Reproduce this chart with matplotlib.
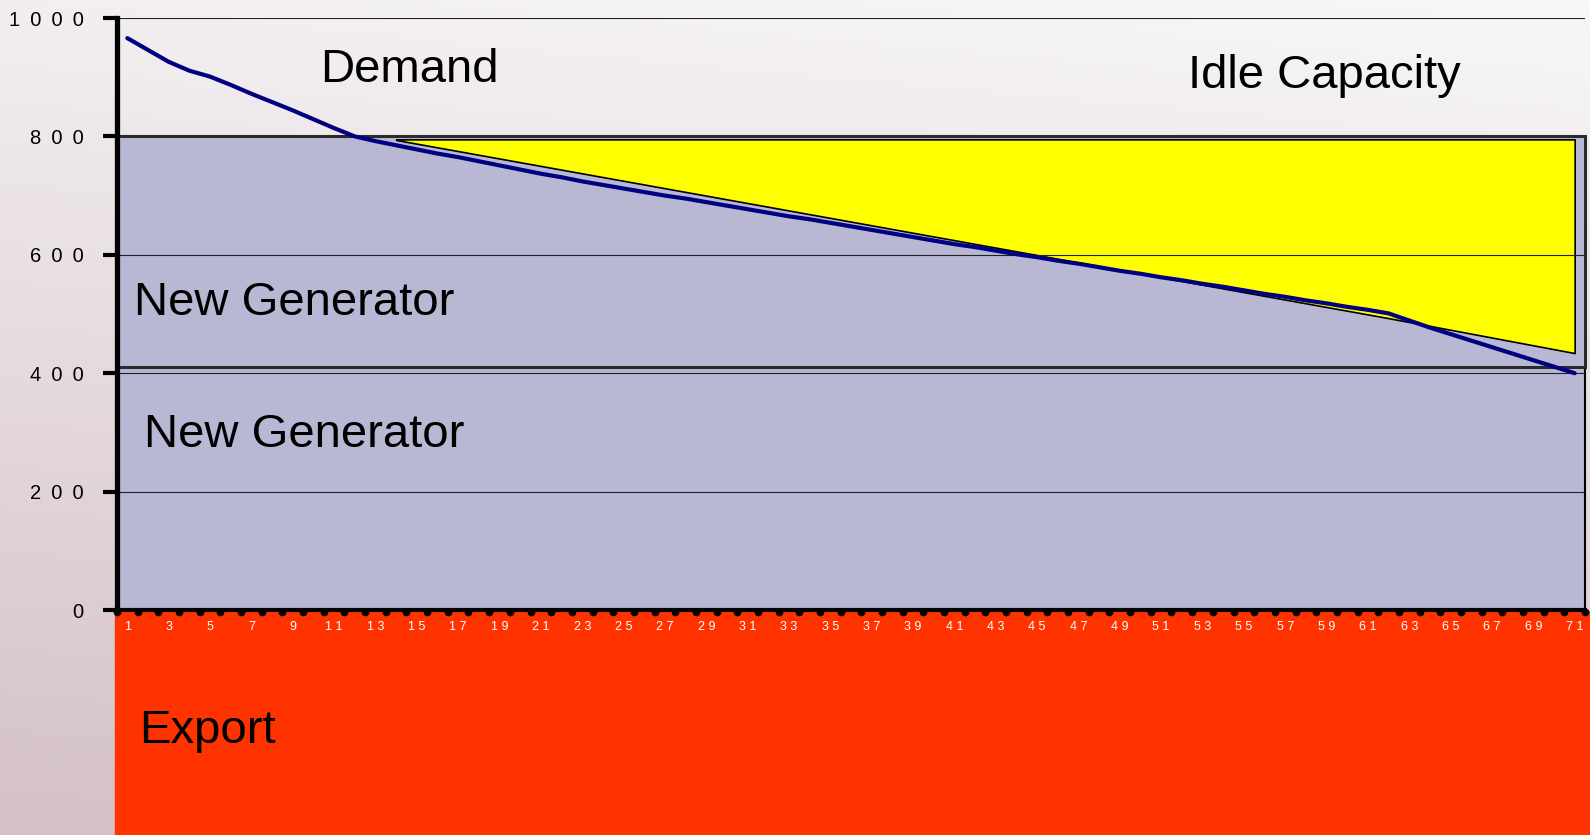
import numpy as np
import matplotlib.pyplot as plt
from matplotlib.patches import Rectangle
from matplotlib.transforms import offset_copy

plt.rcParams['font.family'] = ['Liberation Sans', 'DejaVu Sans']

# periods on the x axis and the demand curve
periods = list(range(1, 72))
demand = [966, 946, 926, 911, 901, 887, 872, 858, 844, 829, 814, 800,
          792, 785, 778, 771, 765, 758, 751, 744, 737, 731, 724,
          718, 712, 706, 700, 695, 689, 683, 677, 671, 665, 660, 654,
          648, 642, 636, 630, 624, 618, 613, 607,
          601, 596, 590, 585, 579, 573, 568, 562, 557, 551, 546, 540,
          534, 529, 523, 518, 512, 507, 501,
          489, 477, 466, 455, 444, 433, 422, 411, 400]

# stacked capacity blocks
existing_gen_top = 410
new_gen_top = 800

# idle capacity wedge (lower edge at its corners, upper edge)
idle_periods = [14, 62, 71]
idle_low = [794, 493, 434]
idle_high = [795, 795, 795]

y_ticks = [0, 200, 400, 600, 800, 1000]

lavender = '#B8B8D5'
navy = '#000080'
export_red = '#FF3300'

W, H = 1590, 835
fig = plt.figure(figsize=(W / 100, H / 100), dpi=100)

# soft gradient background
bg = fig.add_axes([0, 0, 1, 1], zorder=-10)
yy, xx = np.mgrid[0:1:200j, 0:1:200j]
t = 0.85 * yy + 0.15 * (1 - xx)
top_c = np.array([248, 247, 248]) / 255
bot_c = np.array([212, 192, 200]) / 255
img = top_c + (bot_c - top_c) * t[..., None]
bg.imshow(img, extent=[0, 1, 0, 1], aspect='auto', origin='upper')
bg.axis('off')

# export block under the axis
fig.add_artist(Rectangle((115 / W, 0), 1 - 115 / W, (H - 611) / H,
                         transform=fig.transFigure, color=export_red,
                         zorder=-5))

ax = fig.add_axes([117 / W, 1 - 610 / H, (1585 - 117) / W, (610 - 18) / H])
ax.patch.set_alpha(0)
ax.set_xlim(0.5, len(periods) + 0.5)
ax.set_ylim(0, 1000)

s1 = ax.axhspan(0, existing_gen_top, fc=lavender, ec='black', lw=1.5, zorder=1)
s2 = ax.axhspan(existing_gen_top, new_gen_top, fc=lavender, ec='#2a2a2a',
                lw=2.2, zorder=1)
s1.set_clip_on(False)
s2.set_clip_on(False)

ax.fill_between(idle_periods, idle_low, idle_high, facecolor='yellow',
                edgecolor='black', lw=1.2, zorder=2)

for v in y_ticks[1:]:
    if v != new_gen_top:
        ax.axhline(v, color='#222222', lw=0.8, zorder=3)

ax.plot(periods, demand, color=navy, lw=3, zorder=5,
        solid_joinstyle='round', solid_capstyle='round')

# axes styling
for side in ['top', 'right']:
    ax.spines[side].set_visible(False)
ax.spines['left'].set_linewidth(3.8)
ax.spines['bottom'].set_linewidth(3)
ax.spines['left'].set_zorder(6)
ax.spines['bottom'].set_zorder(6)

ax.set_yticks(y_ticks)
ax.set_yticklabels(['\u2002'.join(str(v)) for v in y_ticks])
ax.tick_params(axis='y', length=10, width=3, pad=14, labelsize=14.5)

ax.set_xticks(periods[::2])
ax.set_xticklabels([' '.join(str(p)) for p in periods[::2]])
ax.tick_params(axis='x', length=0, pad=8, labelsize=9, labelcolor='white')

# small round tick dots at category boundaries
edges = np.arange(0.5, len(periods) + 1)
ax.plot(edges, np.zeros(len(edges)), 'o', color='black', ms=4.5,
        clip_on=False, zorder=7,
        transform=offset_copy(ax.transData, fig, y=-2, units='dots'))

# block labels
ax.text(10.3, 892, 'Demand', fontsize=34, va='baseline')
ax.text(52.3, 882, 'Idle Capacity', fontsize=34, va='baseline')
ax.text(1.3, 498, 'New Generator', fontsize=34, va='baseline')
ax.text(1.8, 275, 'New Generator', fontsize=34, va='baseline')
ax.text(1.55, -225, 'Export', fontsize=34, va='baseline', clip_on=False)

fig.savefig('out.png', dpi=100)
